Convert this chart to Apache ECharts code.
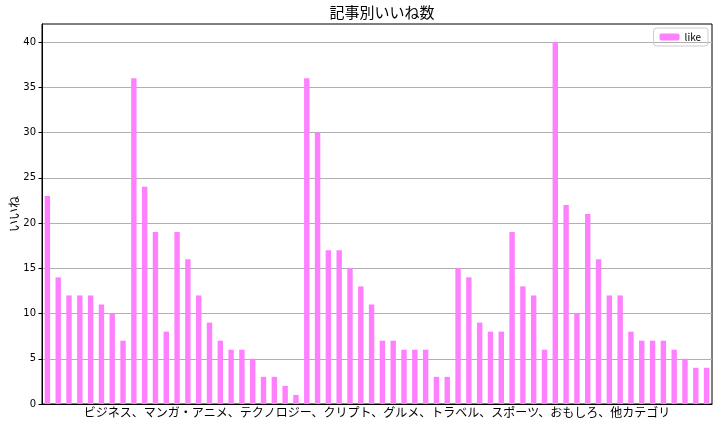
<!DOCTYPE html>
<html>
<head>
<meta charset="utf-8">
<script src="https://cdn.jsdelivr.net/npm/echarts@6/dist/echarts.min.js"></script>
<style>html,body{margin:0;padding:0;background:#fff}#c{width:722px;height:427px}</style>
</head>
<body>
<div id="c"></div>
<script>
const likes = [23,14,12,12,12,11,10,7,36,24,19,8,19,16,12,9,7,6,6,5,3,3,2,1,
  36,30,17,17,15,13,11,7,7,6,6,6,3,3,15,14,9,8,8,19,13,12,6,
  40,22,10,21,16,12,12,8,7,7,7,6,5,4,4];
const categories = likes.map((_, i) => String(i + 1));
const yTicks = [0,5,10,15,20,25,30,35,40];
const titleText = '記事別いいね数';
const xName = 'ビジネス、マンガ・アニメ、テクノロジー、クリプト、グルメ、トラベル、スポーツ、おもしろ、他カテゴリ';
const yName = 'いいね';
const seriesName = 'like';

const font = '"Noto Sans CJK JP", "DejaVu Sans", sans-serif';
const chart = echarts.init(document.getElementById('c'), null, {renderer: 'canvas'});
chart.setOption({
  animation: false,
  textStyle: {fontFamily: font},
  title: {
    text: titleText, left: 377, top: 0, textAlign: 'center',
    textStyle: {fontSize: 15, fontWeight: 'normal', color: '#000', fontFamily: font}
  },
  legend: {
    data: [seriesName], right: 14, top: 28, itemWidth: 20, itemHeight: 7,
    padding: [4, 7, 4, 6], itemGap: 5,
    borderColor: '#cccccc', borderWidth: 1, borderRadius: 3,
    textStyle: {fontSize: 10, color: '#000', fontFamily: font}
  },
  grid: {left: 42, right: 10, top: 24, bottom: 23, containLabel: false, outerBoundsMode: 'none',
    show: true, borderColor: '#000', borderWidth: 1, backgroundColor: 'transparent'},
  xAxis: {
    type: 'category', data: categories, boundaryGap: true,
    name: xName, nameLocation: 'middle', nameGap: 2, nameMoveOverlap: false,
    nameTextStyle: {fontSize: 12, color: '#000', fontFamily: font},
    axisLine: {show: true, lineStyle: {color: '#000', width: 1}},
    axisTick: {show: false}, axisLabel: {show: false}, splitLine: {show: false}
  },
  yAxis: {
    type: 'value', min: 0, max: 42, interval: 5,
    name: yName, nameLocation: 'middle', nameGap: 22, nameRotate: 90, nameMoveOverlap: false,
    nameTextStyle: {fontSize: 12, color: '#000', fontFamily: font},
    axisLine: {show: true, lineStyle: {color: '#000', width: 1}},
    axisTick: {show: true, length: 3.5, lineStyle: {color: '#000'}, customValues: yTicks},
    axisLabel: {
      fontSize: 10, color: '#000', margin: 6, fontFamily: '"DejaVu Sans", sans-serif',
      customValues: yTicks
    },
    splitLine: {show: true, lineStyle: {color: '#b0b0b0', width: 1}}
  },
  series: [{
    name: seriesName, type: 'bar', data: likes, barWidth: '50%',
    itemStyle: {color: '#ff80ff'}
  }]
});
</script>
</body>
</html>
